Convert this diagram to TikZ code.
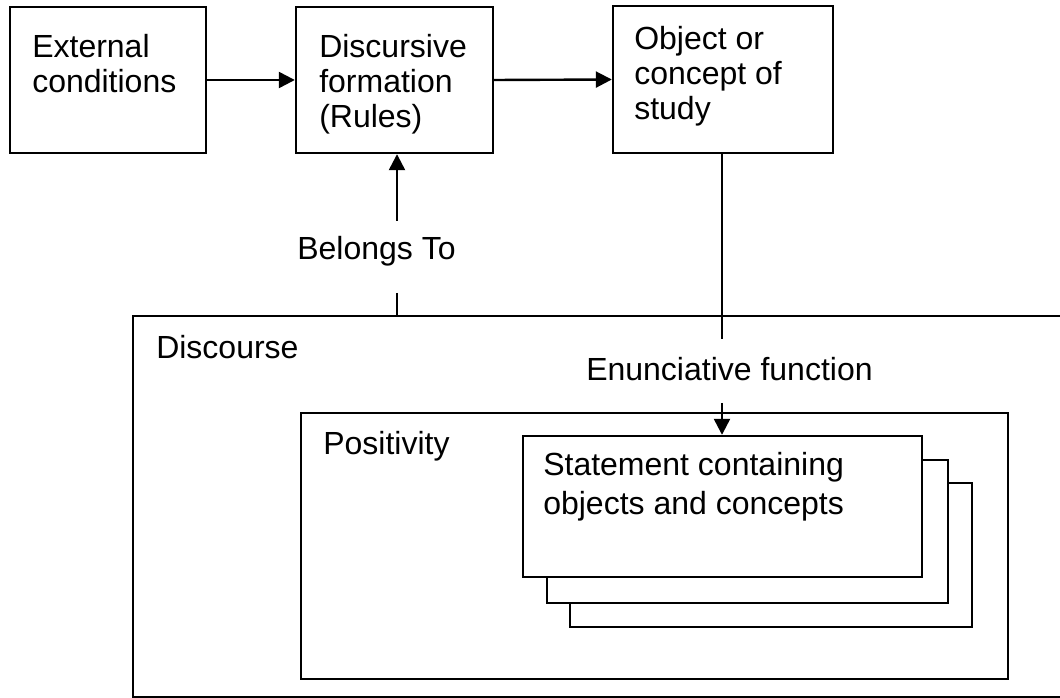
\documentclass[tikz,border=0pt]{standalone}
\usepackage{fontspec}
\setmainfont{Liberation Sans}
\usetikzlibrary{arrows.meta,fit}
\begin{document}
\begin{tikzpicture}[x=0.75pt,y=-0.75pt,
  box/.style={draw, line width=1.8pt, inner sep=0pt, fill=white},
  lbl/.style={anchor=base west, inner sep=0pt, align=left, font=\fontsize{24}{26.3}\selectfont},
  arr/.style={-{Triangle[length=12pt,width=12pt]}, line width=1.8pt},
  con/.style={line width=1.8pt}]
\useasboundingbox (0,0) rectangle (1060,698);
% boxes
\node[box, fit={(10,7) (206,153)}] (ext) {};
\node[box, fit={(296,7) (493,153)}] (disc) {};
\node[box, fit={(613,6) (833,153)}] (obj) {};
\node[box, fit={(133,316) (1063,697)}] (dscr) {};
\node[box, fit={(301,413) (1008,679)}] (pos) {};
\node[box, fit={(570,483) (972,627)}] (st3) {};
\node[box, fit={(547,460) (948,603)}] (st2) {};
\node[box, fit={(523,436) (922,577)}] (st1) {};
% texts (base anchor = baseline of last line)
\node[lbl] (tExt) at (32,93) {External\\conditions};
\node[lbl] (tDisc) at (319,128) {Discursive\\formation\\(Rules)};
\node[lbl] (tObj) at (634,120) {Object or\\concept of\\study};
\node[lbl] (tDscr) at (156,359) {Discourse};
\node[lbl] (tPos) at (323,454) {Positivity};
\node[lbl, font=\fontsize{24}{29}\selectfont] (tSt) at (543,514) {Statement containing\\objects and concepts};
\node[lbl] (tBel) at (297,260) {Belongs To};
\node[lbl] (tEnu) at (586,381) {Enunciative function};
% connectors
\draw[arr] (ext.east) -- (disc.west);
\draw[arr] (disc.east) -- (obj.west);
\coordinate (b1) at (397,221);
\coordinate (b2) at (397,293);
\draw[arr] (b1) -- (b1 |- disc.south);
\draw[con] (b2) -- (b2 |- dscr.north);
\coordinate (e1) at (722,339);
\coordinate (e2) at (722,403);
\draw[con] (e1 |- obj.south) -- (e1);
\draw[arr] (e2) -- (e2 |- st1.north);
\end{tikzpicture}
\end{document}
